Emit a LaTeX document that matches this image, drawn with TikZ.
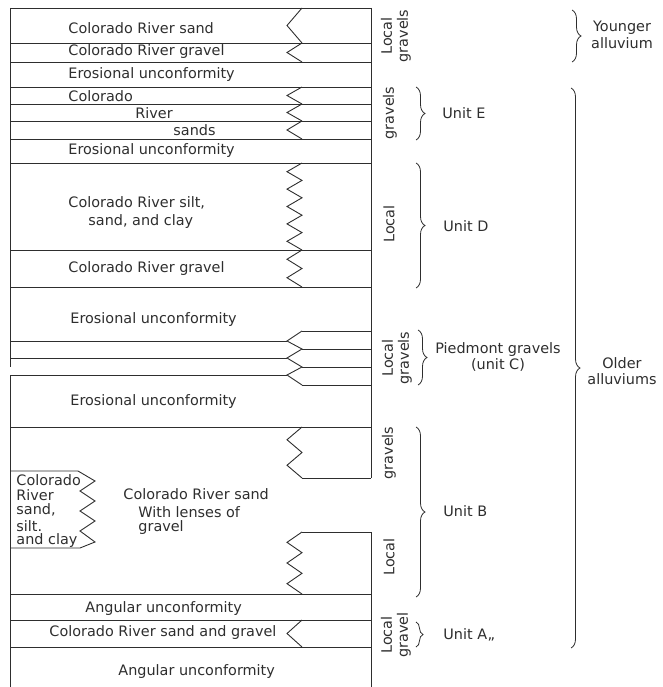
\documentclass[tikz,border=0pt]{standalone}
\usepackage{fontspec}
\setmainfont{DejaVu Sans}
\usetikzlibrary{decorations.pathreplacing}
\definecolor{ink}{gray}{0.18}
\newcommand\Lx{10}
\newcommand\Rx{371}
\newcommand\ZLx{287}
\newcommand\ZRx{302}
\newcommand\zigline[3]{%
  \draw (\ZRx,#1) \foreach \k in {1,...,#3} { -- (\ZLx,{#1+(\k-0.5)*(#2-#1)/#3}) -- (\ZRx,{#1+\k*(#2-#1)/#3}) };%
}
\begin{document}
\begin{tikzpicture}[x=1pt,y=-1pt,line width=0.9pt,color=ink,
  lbl/.style={inner sep=0pt,text=ink,font=\fontsize{14.4}{16.5}\selectfont},
  wlbl/.style={lbl,anchor=west},
  clbl/.style={lbl,align=center},
  vlbl/.style={lbl,rotate=90,align=center,font=\fontsize{14.4}{16}\selectfont},
  brc/.style={decorate,decoration={brace,amplitude=9pt},line width=0.8pt}]
\useasboundingbox (0,0) rectangle (662,687);
% column border
\draw (\Lx,8) -- (\Rx,8);
\draw (\Lx,8) -- (\Lx,367);
\draw (\Lx,375) -- (\Lx,687);
\draw (\Rx,8) -- (\Rx,478);
\draw (\Rx,532) -- (\Rx,687);
% full-width layer lines
\foreach \y in {43,62,87,104,121,139,163,250,287,427,594,620,647}
  \draw (\Lx,\y) -- (\Rx,\y);
% interfingering zigzags
\zigline{8}{43}{1}
\zigline{43}{62}{1}
\zigline{87}{104}{1}
\zigline{104}{121}{1}
\zigline{121}{139}{1}
\zigline{163}{250}{5}
\zigline{250}{287}{2}
\zigline{427}{478}{2}
\zigline{532}{594}{3}
\zigline{620}{647}{1}
\draw (\ZRx,478) -- (\Rx,478);
\draw (\ZRx,532) -- (\Rx,532);
% piedmont gravels
\draw (\Lx,341) -- (\ZLx,341);
\draw (\Lx,358) -- (\ZLx,358);
\draw (\Lx,375) -- (\ZLx,375);
\draw (\ZRx,331) -- (\ZLx,341) -- (\ZRx,349) -- (\ZLx,358) -- (\ZRx,367) -- (\ZLx,375) -- (\ZRx,385);
\foreach \y in {331,349,367,385}
  \draw (\ZRx,\y) -- (\Rx,\y);
% lens
\draw (\Lx,471) -- (78,471) -- (95,481) -- (80,491) -- (95,501) -- (80,511) -- (95,521) -- (80,531) -- (95,542) -- (80,548) -- (\Lx,548);
% column texts
\node[wlbl] (t1) at (68,28) {Colorado River sand};
\node[wlbl] (t2) at (68,52) {Colorado River gravel};
\node[wlbl] (t3) at (68,75) {Erosional unconformity};
\node[wlbl] (t4) at (68,96) {Colorado};
\node[wlbl] (t5) at (135,113) {River};
\node[wlbl] (t6) at (173,130) {sands};
\node[wlbl] (t7) at (68,151) {Erosional unconformity};
\node[wlbl] (t8) at (68,203) {Colorado River silt,};
\node[wlbl] (t9) at (88,222) {sand, and clay};
\node[wlbl] (t10) at (68,269) {Colorado River gravel};
\node[wlbl] (t11) at (70,320) {Erosional unconformity};
\node[wlbl] (t12) at (70,402) {Erosional unconformity};
\node[wlbl] (t13) at (123,494) {Colorado River sand};
\node[wlbl] (t14) at (138,512) {With lenses of};
\node[wlbl] (t15) at (138,528) {gravel};
\node[wlbl] (t16) at (85,609) {Angular unconformity};
\node[wlbl] (t17) at (49,633) {Colorado River sand and gravel};
\node[wlbl] (t18) at (118,672) {Angular unconformity};
\node[wlbl] (l1) at (16,480) {Colorado};
\node[wlbl] (l2) at (16,495) {River};
\node[wlbl] (l3) at (16,510) {sand,};
\node[wlbl] (l4) at (16,526) {silt.};
\node[wlbl] (l5) at (16,541) {and clay};
% rotated local gravel labels
\node[vlbl] (v1) at (396,36) {Local\\gravels};
\node[vlbl] (v2) at (390,113) {gravels};
\node[vlbl] (v3) at (389,224) {Local};
\node[vlbl] (v4) at (397,358) {Local\\gravels};
\node[vlbl] (v5) at (389,453) {gravels};
\node[vlbl] (v6) at (389,557) {Local};
\node[vlbl] (v7) at (396,635) {Local\\gravel};
% braces
\coordinate (yaT) at (572,10); \coordinate (yaB) at (572,62);
\coordinate (oaT) at (571,88); \coordinate (oaB) at (571,648);
\coordinate (eT) at (416,87); \coordinate (eB) at (416,140);
\coordinate (dT) at (416,163); \coordinate (dB) at (416,288);
\coordinate (cT) at (418,330); \coordinate (cB) at (418,385);
\coordinate (bT) at (416,427); \coordinate (bB) at (416,597);
\coordinate (aT) at (416,622); \coordinate (aB) at (416,647);
\draw[brc] (yaT) -- (yaB);
\draw[brc] (oaT) -- (oaB);
\draw[brc] (eT) -- (eB);
\draw[brc] (dT) -- (dB);
\draw[brc] (cT) -- (cB);
\draw[brc] (bT) -- (bB);
\draw[brc,decoration={brace,amplitude=7pt}] (aT) -- (aB);
% unit labels
\node[clbl] (ya) at (622,35) {Younger\\alluvium};
\node[clbl] (oa) at (622,371) {Older\\alluviums};
\node[wlbl] (ue) at (442,113) {Unit E};
\node[wlbl] (ud) at (443,226) {Unit D};
\node[clbl] (uc) at (498,357) {Piedmont gravels\\(unit C)};
\node[wlbl] (ub) at (443,511) {Unit B};
\node[wlbl] (ua) at (443,635) {Unit A„};
\end{tikzpicture}
\end{document}
